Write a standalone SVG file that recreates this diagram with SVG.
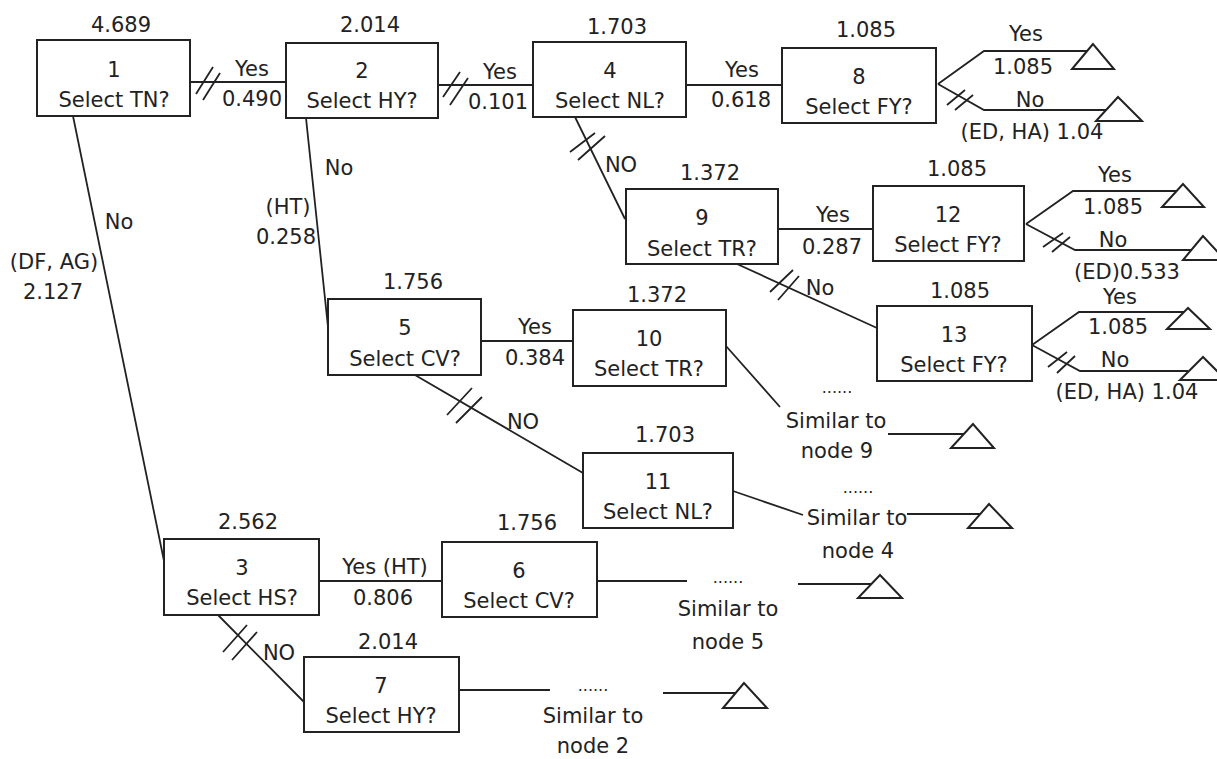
<svg xmlns="http://www.w3.org/2000/svg" width="1217" height="759" viewBox="0 0 1217 759">
<style>
text{font-family:"DejaVu Sans","Liberation Sans",sans-serif;font-size:21px;fill:#222;text-anchor:middle}
.box{fill:#fff;stroke:#222;stroke-width:2}
.ln{fill:none;stroke:#222;stroke-width:1.8}
.tri{fill:#fff;stroke:#222;stroke-width:2}
.dots{font-size:16px}
</style>
<rect width="1217" height="759" fill="#fff"/>
<g id="connectors">
<path class="ln" d="M190 82H286 M438 85H533 M686 85H782 M575 117L625 219 M778 229H873 M737 264L877 328 M306 118L328 327 M73 116L164 561 M481 341H573 M415 375L583 473 M319 581H442 M218 615L304 702"/>
<path class="ln" d="M597 581H687 M459 690H550 M726 346L780 407 M733 491L803 515"/>
<path class="ln" d="M938 84L984 51H1087 M938 84L984 110H1106 M1026 224L1073 191H1177 M1026 224L1075 250H1191 M1032 345L1079 312H1184 M1032 345L1080 371H1188"/>
<path class="ln" d="M888 434H964 M907 514H980 M798 584H871 M663 693H736"/>
<g id="slashes" class="ln">
<path d="M196 94L213 67 M203 100L220 73"/>
<path d="M443 97L460 72 M450 105L468 78"/>
<path d="M570 152L595 133 M578 160L605 136"/>
<path d="M947 105L965 90 M955 110L973 95"/>
<path d="M770 292L793 270 M778 300L799 276"/>
<path d="M1043 247L1063 233 M1052 252L1070 237"/>
<path d="M1048 367L1067 352 M1057 373L1075 356"/>
<path d="M447 415L472 388 M456 423L482 397"/>
<path d="M223 652L247 625 M232 660L257 632"/>
</g>
<g id="edge-labels">
<text x="252" y="76">Yes</text><text x="252" y="106">0.490</text>
<text x="500" y="79">Yes</text><text x="498" y="109">0.101</text>
<text x="742" y="77">Yes</text><text x="741" y="107">0.618</text>
<text x="1026" y="41">Yes</text><text x="1023" y="74">1.085</text>
<text x="1030" y="107">No</text><text x="1032" y="139">(ED, HA) 1.04</text>
<text x="621" y="172">NO</text>
<text x="833" y="222">Yes</text><text x="832" y="254">0.287</text>
<text x="1115" y="182">Yes</text><text x="1113" y="214">1.085</text>
<text x="1113" y="247">No</text><text x="1127" y="279">(ED)0.533</text>
<text x="820" y="295">No</text>
<text x="1120" y="304">Yes</text><text x="1118" y="334">1.085</text>
<text x="1115" y="367">No</text><text x="1127" y="399">(ED, HA) 1.04</text>
<text x="339" y="175">No</text>
<text x="288" y="214">(HT)</text><text x="286" y="244">0.258</text>
<text x="119" y="229">No</text>
<text x="54" y="269">(DF, AG)</text><text x="53" y="299">2.127</text>
<text x="535" y="334">Yes</text><text x="535" y="365">0.384</text>
<text x="523" y="429">NO</text>
<text x="385" y="574">Yes (HT)</text><text x="383" y="605">0.806</text>
<text x="279" y="660">NO</text>
</g>
</g>
<g id="leaves">
<polygon class="tri" points="1093,44 1072,69 1114,69"/>
<polygon class="tri" points="1118,97 1096,121 1142,121"/>
<polygon class="tri" points="1183,184 1162,207 1204,207"/>
<polygon class="tri" points="1203,236 1183,260 1225,260"/>
<polygon class="tri" points="1188,308 1167,329 1210,329"/>
<polygon class="tri" points="1203,357 1180,380 1226,380"/>
<polygon class="tri" points="973,424 951,448 994,448"/>
<polygon class="tri" points="989,504 968,528 1012,528"/>
<polygon class="tri" points="880,575 858,598 902,598"/>
<polygon class="tri" points="744,683 723,708 767,708"/>
</g>
<g id="similar9"><text class="dots" x="837" y="393">......</text><text x="836" y="428">Similar to</text><text x="837" y="458">node 9</text></g>
<g id="similar4"><text class="dots" x="858" y="493">......</text><text x="857" y="525">Similar to</text><text x="858" y="558">node 4</text></g>
<g id="similar5"><text class="dots" x="728" y="583">......</text><text x="728" y="616">Similar to</text><text x="728" y="649">node 5</text></g>
<g id="similar2"><text class="dots" x="593" y="691">......</text><text x="593" y="723">Similar to</text><text x="593" y="753">node 2</text></g>
<g id="node1"><rect class="box" x="37" y="40" width="153" height="76"/><text x="121" y="32">4.689</text><text x="114" y="77">1</text><text x="114" y="107">Select TN?</text></g>
<g id="node2"><rect class="box" x="286" y="43" width="152" height="75"/><text x="370" y="32">2.014</text><text x="362" y="78">2</text><text x="362" y="108">Select HY?</text></g>
<g id="node4"><rect class="box" x="533" y="42" width="153" height="75"/><text x="617" y="34">1.703</text><text x="610" y="78">4</text><text x="610" y="108">Select NL?</text></g>
<g id="node8"><rect class="box" x="782" y="48" width="154" height="75"/><text x="866" y="37">1.085</text><text x="859" y="84">8</text><text x="859" y="114">Select FY?</text></g>
<g id="node9"><rect class="box" x="626" y="189" width="152" height="75"/><text x="710" y="180">1.372</text><text x="702" y="225">9</text><text x="702" y="256">Select TR?</text></g>
<g id="node12"><rect class="box" x="873" y="186" width="151" height="75"/><text x="957" y="176">1.085</text><text x="948" y="222">12</text><text x="948" y="252">Select FY?</text></g>
<g id="node13"><rect class="box" x="877" y="306" width="155" height="75"/><text x="960" y="298">1.085</text><text x="954" y="342">13</text><text x="954" y="372">Select FY?</text></g>
<g id="node5"><rect class="box" x="328" y="299" width="153" height="76"/><text x="413" y="289">1.756</text><text x="405" y="335">5</text><text x="405" y="366">Select CV?</text></g>
<g id="node10"><rect class="box" x="573" y="310" width="153" height="76"/><text x="657" y="302">1.372</text><text x="649" y="346">10</text><text x="649" y="376">Select TR?</text></g>
<g id="node11"><rect class="box" x="583" y="453" width="150" height="75"/><text x="665" y="442">1.703</text><text x="658" y="489">11</text><text x="658" y="519">Select NL?</text></g>
<g id="node3"><rect class="box" x="164" y="539" width="155" height="76"/><text x="248" y="529">2.562</text><text x="242" y="575">3</text><text x="242" y="605">Select HS?</text></g>
<g id="node6"><rect class="box" x="442" y="542" width="155" height="75"/><text x="527" y="530">1.756</text><text x="519" y="578">6</text><text x="519" y="608">Select CV?</text></g>
<g id="node7"><rect class="box" x="304" y="657" width="155" height="75"/><text x="388" y="649">2.014</text><text x="381" y="693">7</text><text x="381" y="723">Select HY?</text></g>
</svg>
